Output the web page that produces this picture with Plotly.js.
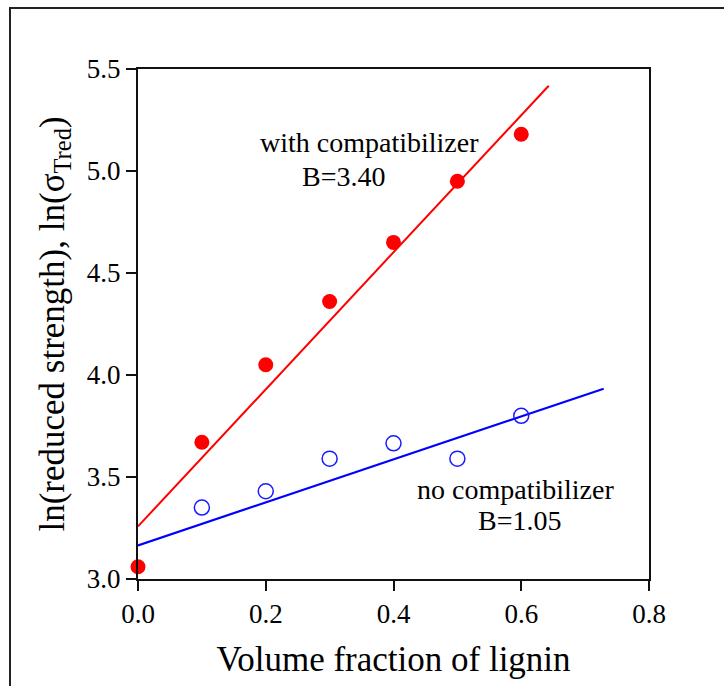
<!DOCTYPE html>
<html>
<head>
<meta charset="utf-8">
<script src="https://cdn.plot.ly/plotly-3.0.1.min.js"></script>
<style>
  html, body { margin: 0; padding: 0; background: #ffffff; }
  #wrap { position: relative; width: 724px; height: 686px; overflow: hidden; }
  #chart { position: absolute; left: 0; top: 0; width: 724px; height: 686px; }
  #frame { position: absolute; left: 9px; top: 7px; width: 760px; height: 720px;
           border-left: 2px solid #222; border-top: 2px solid #222; pointer-events: none; }
</style>
</head>
<body>
<div id="wrap">
  <div id="chart"></div>
  <div id="frame"></div>
</div>
<script>
// Data
const lignin = [0.0, 0.1, 0.2, 0.3, 0.4, 0.5, 0.6];
const withCompat = [3.06, 3.67, 4.05, 4.36, 4.65, 4.95, 5.18];
const noCompatX = [0.1, 0.2, 0.3, 0.4, 0.5, 0.6];
const noCompat = [3.35, 3.43, 3.59, 3.665, 3.59, 3.80];
// Fitted lines (endpoints)
const fitWithX = [0.0, 0.643];
const fitWithY = [3.258, 5.418];
const fitNoX = [0.0, 0.729];
const fitNoY = [3.165, 3.933];
const xTicks = [0.0, 0.2, 0.4, 0.6, 0.8];
const yTicks = [3.0, 3.5, 4.0, 4.5, 5.0, 5.5];

const FONT = "'Liberation Serif', 'Times New Roman', serif";

const traces = [
  { x: fitWithX, y: fitWithY, mode: 'lines', line: { color: '#ff0000', width: 2 }, hoverinfo: 'skip', cliponaxis: false },
  { x: fitNoX, y: fitNoY, mode: 'lines', line: { color: '#0000ff', width: 2.2 }, hoverinfo: 'skip', cliponaxis: false },
  { x: lignin, y: withCompat, mode: 'markers', cliponaxis: false,
    marker: { symbol: 'circle', size: 15, color: '#ff0000', line: { width: 0 } } },
  { x: noCompatX, y: noCompat, mode: 'markers', cliponaxis: false,
    marker: { symbol: 'circle-open', size: 15, color: '#1a1aff', line: { width: 1.5, color: '#1a1aff' } } }
];

const layout = {
  width: 724, height: 686,
  margin: { l: 138, r: 75, t: 69, b: 107 },
  paper_bgcolor: 'rgba(0,0,0,0)',
  plot_bgcolor: '#ffffff',
  showlegend: false,
  font: { family: FONT, color: '#000000' },
  xaxis: {
    range: [0, 0.8], tickvals: xTicks, ticktext: xTicks.map(v => v.toFixed(1)),
    showgrid: false, zeroline: false,
    showline: true, linecolor: '#111', linewidth: 2, mirror: true,
    ticks: 'outside', ticklen: 10, tickwidth: 2, tickcolor: '#111',
    tickfont: { family: FONT, size: 27, color: '#000' },
    title: { text: 'Volume fraction of lignin', font: { family: FONT, size: 35, color: '#000' }, standoff: 18 },
    automargin: false
  },
  yaxis: {
    range: [3.0, 5.5], tickvals: yTicks, ticktext: yTicks.map(v => v.toFixed(1)),
    showgrid: false, zeroline: false,
    showline: true, linecolor: '#111', linewidth: 2, mirror: true,
    ticks: 'outside', ticklen: 10, tickwidth: 2, tickcolor: '#111',
    tickfont: { family: FONT, size: 27, color: '#000' },
    title: { text: 'ln(reduced strength), ln(σ<sub>Tred</sub>)', font: { family: FONT, size: 35, color: '#000' }, standoff: 12 },
    automargin: false
  },
  annotations: [
    { x: 0.3626, y: 5.139, xref: 'x', yref: 'y', text: 'with compatibilizer', showarrow: false,
      xanchor: 'center', yanchor: 'middle', font: { family: FONT, size: 28, color: '#000' } },
    { x: 0.322, y: 4.972, xref: 'x', yref: 'y', text: 'B=3.40', showarrow: false,
      xanchor: 'center', yanchor: 'middle', font: { family: FONT, size: 28, color: '#000' } },
    { x: 0.591, y: 3.438, xref: 'x', yref: 'y', text: 'no compatibilizer', showarrow: false,
      xanchor: 'center', yanchor: 'middle', font: { family: FONT, size: 28, color: '#000' } },
    { x: 0.597, y: 3.286, xref: 'x', yref: 'y', text: 'B=1.05', showarrow: false,
      xanchor: 'center', yanchor: 'middle', font: { family: FONT, size: 28, color: '#000' } }
  ]
};

Plotly.newPlot('chart', traces, layout, { displayModeBar: false, staticPlot: true });
</script>
</body>
</html>
